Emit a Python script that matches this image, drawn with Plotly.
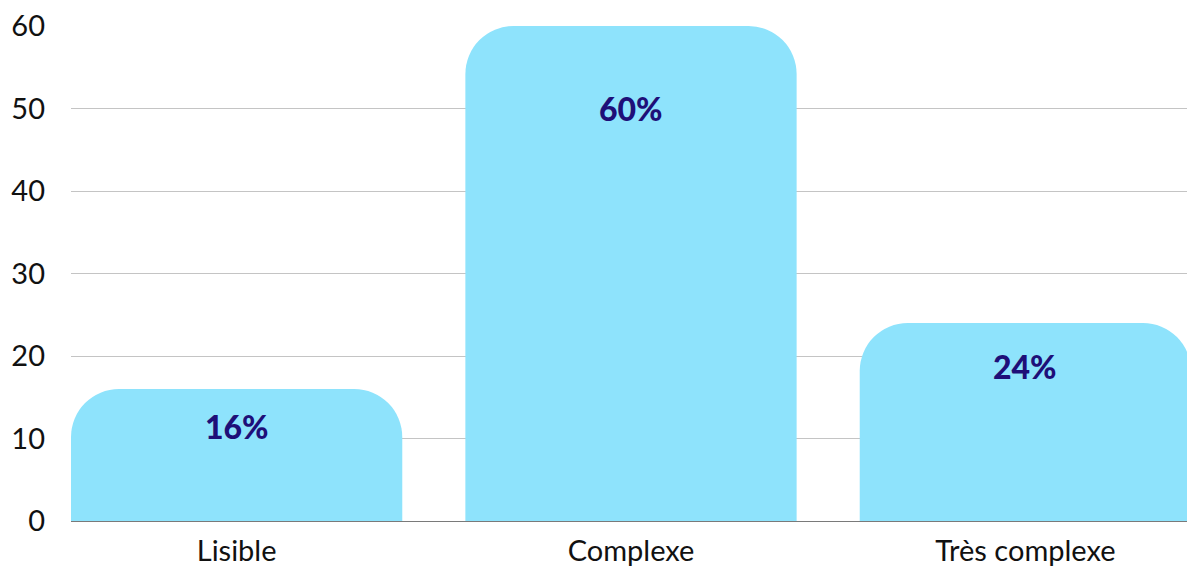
import plotly.graph_objects as go

categories = ["Lisible", "Complexe", "Très complexe"]
values = [16, 60, 24]
labels = ["16%", "60%", "24%"]
y_ticks = [0, 10, 20, 30, 40, 50, 60]

label_shift = [-37, -82, -43]

BAR = "#8EE3FC"
NAVY = "#1E0F78"
FONT = "Lato, 'Noto Sans', sans-serif"

fig = go.Figure()
fig.add_trace(go.Bar(
    x=categories, y=values,
    marker=dict(color=BAR, cornerradius=48, line=dict(width=0)),
    hoverinfo="skip",
))

for c, v, t, s in zip(categories, values, labels, label_shift):
    fig.add_annotation(x=c, y=v, text=t, showarrow=False,
                       yanchor="middle", yshift=s,
                       font=dict(family=FONT, size=32, color=NAVY, weight=900))

# page body adds an 8px offset; size the figure to fit the window
fig.update_layout(
    width=1187, height=559,
    margin=dict(l=63, r=4, t=18, b=46, autoexpand=False),
    paper_bgcolor="white", plot_bgcolor="white",
    bargap=0.16, showlegend=False,
    font=dict(family=FONT, size=28, color="#111111"),
)
fig.update_xaxes(range=[-0.42, 2.42], showgrid=False, showline=False,
                 ticks="", ticklabelstandoff=10, automargin=False,
                 ticklabeloverflow="allow",
                 tickfont=dict(family=FONT, size=29, color="#111111"))
fig.update_yaxes(range=[0, 60], tickvals=y_ticks, showgrid=True,
                 gridcolor="#C4C4C4", gridwidth=1.3,
                 zeroline=True, zerolinecolor="#7A7A7A", zerolinewidth=1.3,
                 ticks="", ticklabelstandoff=25, automargin=False,
                 ticklabeloverflow="allow",
                 tickfont=dict(family=FONT, size=29, color="#111111"))

fig.write_html("out.html")
